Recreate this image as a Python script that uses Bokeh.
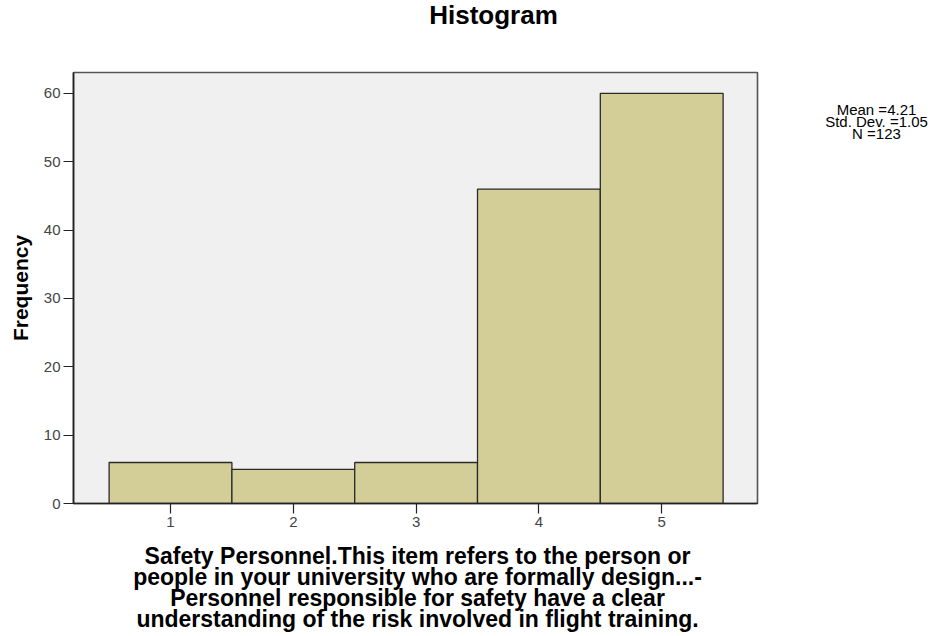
from bokeh.plotting import figure
from bokeh.layouts import row, column
from bokeh.models import Range1d, FixedTicker, ColumnDataSource
from bokeh.core.properties import value
from bokeh.embed import file_html
from bokeh.resources import INLINE

# ---- data ----
categories = [1, 2, 3, 4, 5]
frequencies = [6, 5, 6, 46, 60]
y_ticks = [0, 10, 20, 30, 40, 50, 60]
title_text = "Histogram"
y_label = "Frequency"
x_label_lines = [
    "Safety Personnel.This item refers to the person or",
    "people in your university who are formally design...-",
    "Personnel responsible for safety have a clear",
    "understanding of the risk involved in flight training.",
]
stats_lines = ["Mean =4.21", "Std. Dev. =1.05", "N =123"]

# ---- layout (page pixels) ----
FL, FR, FT, FB = 73, 757, 72, 503      # plot frame edges
W_MAIN, W_SIDE = 770, 171
Y_TOP, Y_BOT, Y_END = 40, 540, 634     # band boundaries: title | plot | x label
FONT = "Liberation Sans"


def text_panel(width, height, x0, x1, y0, y1, border_left=0, border_right=0,
               border_top=0, border_bottom=0):
    f = figure(width=width, height=height, output_backend="svg",
               toolbar_location=None, x_range=Range1d(x0, x1),
               y_range=Range1d(y1, y0), x_axis_location=None,
               y_axis_location=None, min_border_left=border_left,
               min_border_right=border_right, min_border_top=border_top,
               min_border_bottom=border_bottom, outline_line_color=None)
    f.xgrid.visible = False
    f.ygrid.visible = False
    return f


# title band
t = text_panel(W_MAIN, Y_TOP, FL, FR, 0, Y_TOP,
               border_left=FL, border_right=W_MAIN - FR)
t.text(x=[493], y=[14], text=[title_text], text_align="center",
       text_baseline="alphabetic", text_font=value(FONT),
       text_font_size="26px", text_font_style="bold", text_color="black")

# main histogram
p = figure(width=W_MAIN, height=Y_BOT - Y_TOP, output_backend="svg",
           toolbar_location=None, title=None,
           x_range=Range1d(0.21, 5.78), y_range=Range1d(0, 63.05),
           min_border_left=FL, min_border_right=W_MAIN - FR,
           min_border_top=FT - Y_TOP, min_border_bottom=Y_BOT - FB)
p.background_fill_color = "#F0F0F0"
p.border_fill_color = "white"
p.outline_line_color = "#555555"
p.outline_line_width = 1.6
p.xgrid.visible = False
p.ygrid.visible = False

src = ColumnDataSource(dict(
    left=[c - 0.5 for c in categories],
    right=[c + 0.5 for c in categories],
    top=frequencies,
))
p.quad(left="left", right="right", bottom=0, top="top", source=src,
       fill_color="#D3CE98", line_color="#2a2a2a", line_width=1.3)

for ax in (p.xaxis[0], p.yaxis[0]):
    ax.axis_line_color = "#222222"
    ax.axis_line_width = 1.6
    ax.major_tick_line_color = "#222222"
    ax.major_tick_line_width = 1.2
    ax.major_tick_out = 10
    ax.major_tick_in = 0
    ax.minor_tick_line_color = None
    ax.major_label_text_font = FONT
    ax.major_label_text_font_size = "15px"
    ax.major_label_text_color = "#444444"
    ax.axis_label_text_font = FONT
    ax.axis_label_text_font_style = "bold"
    ax.axis_label_text_color = "black"
p.xaxis.ticker = FixedTicker(ticks=categories)
p.yaxis.ticker = FixedTicker(ticks=y_ticks)
p.xaxis.major_label_standoff = 3
p.yaxis.major_label_standoff = 3
p.yaxis.axis_label = y_label
p.yaxis.axis_label_text_font_size = "21px"
p.yaxis.axis_label_standoff = 9

# statistics at the right
s = text_panel(W_SIDE, Y_BOT - Y_TOP, W_MAIN, W_MAIN + W_SIDE, FT, FB,
               border_top=FT - Y_TOP, border_bottom=Y_BOT - FB)
s.text(x=[876] * 3, y=[109, 121, 132.5], text=stats_lines,
       text_align="center", text_baseline="alphabetic",
       text_font=value(FONT), text_font_size="15px", text_color="black")

# x-axis label band
b = text_panel(W_MAIN, Y_END - Y_BOT, FL, FR, Y_BOT, Y_END,
               border_left=FL, border_right=W_MAIN - FR)
b.text(x=[417] * 4, y=[555, 576, 597, 618], text=x_label_lines,
       text_align="center", text_baseline="alphabetic",
       text_font=value(FONT), text_font_size="23px",
       text_font_style="bold", text_color="black")

layout = column(t, row(p, s), b)
open("out.html", "w").write(file_html(layout, INLINE))
